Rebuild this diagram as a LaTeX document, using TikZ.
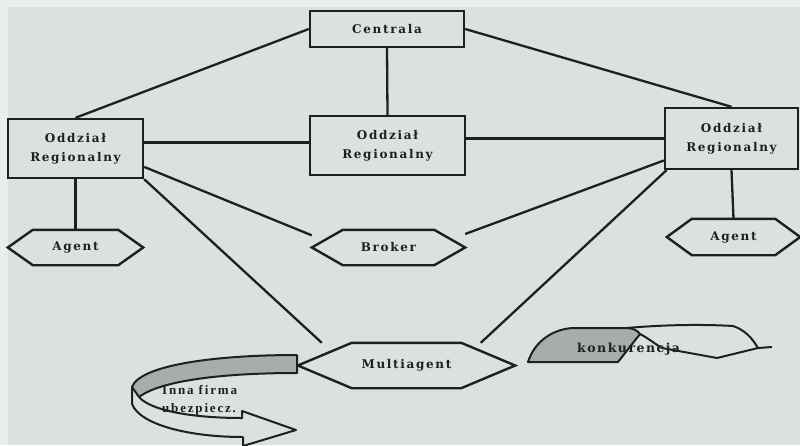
\documentclass[tikz,border=0pt]{standalone}
\usepackage{fontspec}
\setmainfont{DejaVu Serif}
\newfontfamily\lblfont[LetterSpace=14]{DejaVu Serif}
\newfontfamily\konfont[LetterSpace=12]{DejaVu Serif}
\newfontfamily\innafont[LetterSpace=14]{Liberation Serif}
\usetikzlibrary{calc}
\definecolor{bg}{RGB}{219,224,225}
\definecolor{bgl}{RGB}{234,237,238}
\definecolor{ink}{RGB}{30,32,32}
\definecolor{shadec}{RGB}{168,172,173}
\tikzset{
  box/.style={draw=ink, line width=2.4pt, rectangle, inner sep=0pt, align=center, text=ink,
    font=\lblfont\bfseries\fontsize{12}{19}\selectfont},
  hexn/.style={rectangle, inner sep=0pt, text=ink, font=\lblfont\bfseries\fontsize{12}{14}\selectfont},
  hexline/.style={draw=ink, line width=2.4pt, line join=miter},
  conn/.style={draw=ink, line width=2.3pt},
  ribbon/.style={draw=ink, line width=2pt, line join=round},
  lbl/.style={inner sep=0pt, text=ink}
}
\newcommand\hexdraw[2]{\draw[hexline] (#1.west) -- ($(#1.north west)+(#2,0)$) -- ($(#1.north east)+(-#2,0)$) -- (#1.east) -- ($(#1.south east)+(-#2,0)$) -- ($(#1.south west)+(#2,0)$) -- cycle;}
\begin{document}
\begin{tikzpicture}[x=1pt,y=-1pt]
\useasboundingbox (0,0) rectangle (800,445);
\clip (0,0) rectangle (800,445);
\fill[bg] (0,0) rectangle (800,445);
\fill[bgl] (0,0) rectangle (8,445);
\fill[bgl] (0,0) rectangle (800,7);

% boxes
\node[box, minimum width=154pt, minimum height=36pt] (cen) at (387,29) {Centrala};
\node[box, minimum width=135pt, minimum height=59pt] (lo) at (75.5,148.5) {Oddział\\Regionalny};
\node[box, minimum width=155pt, minimum height=59pt] (mo) at (387.5,145.5) {Oddział\\Regionalny};
\node[box, minimum width=133pt, minimum height=61pt] (ro) at (731.5,138.5) {Oddział\\Regionalny};

% hexagons
\node[hexn, minimum width=135pt, minimum height=35pt] (agl) at (75.5,247.5) {Agent};
\node[hexn, minimum width=153pt, minimum height=35pt] (bro) at (388.5,247.5) {Broker};
\node[hexn, minimum width=133pt, minimum height=36pt] (agr) at (733.5,237) {Agent};
\node[hexn, minimum width=217pt, minimum height=45pt] (mul) at (406.5,365.5) {Multiagent};
\hexdraw{agl}{25}
\hexdraw{bro}{31}
\hexdraw{agr}{25}
\hexdraw{mul}{54}

% connectors
\draw[conn] (cen.west) -- (lo.north);
\draw[conn] (cen.east) -- (ro.north);
\draw[conn] (cen.south) -- (mo.north);
\draw[conn] (lo.5) -- (lo.5 -| mo.west);
\draw[conn] (mo.east |- ro.west) -- (ro.west);
\draw[conn] (lo.south) -- (agl.north);
\draw[conn] (lo.-15) -- (bro.171);
\draw[conn] (lo.south east) -- (mul.165);
\draw[conn] (ro.198) -- (bro.10);
\draw[conn] (ro.206) -- (mul.17);
\draw[conn] (ro.south) -- (agr.north);

% Inna firma ribbon arrow
\filldraw[ribbon, fill=shadec] (297,355) .. controls (215,355) and (140,365) .. (132,387)
  -- (139,397) .. controls (160,381) and (220,373) .. (297,373) -- cycle;
\draw[ribbon] (132,387) -- (132,404) .. controls (140,425) and (190,437) .. (243,437)
  -- (243,446) -- (296,430) -- (242,411) -- (242,418)
  .. controls (190,418) and (150,410) .. (139,397);
\node[lbl, anchor=base west, font=\innafont\bfseries\fontsize{13}{14}\selectfont] (inna) at (162,394) {Inna firma};
\node[lbl, anchor=base west, font=\innafont\bfseries\fontsize{13}{14}\selectfont] (ubez) at (162,412) {ubezpiecz.};

% konkurencja ribbon
\filldraw[ribbon, fill=shadec] (528,362) .. controls (535,340) and (555,328) .. (575,328)
  -- (627,328) .. controls (633,328) and (638,331) .. (640,334) -- (618,362) -- cycle;
\draw[ribbon] (627,328) .. controls (660,325) and (700,324) .. (733,326)
  .. controls (745,330) and (752,338) .. (758,348) -- (772,347);
\draw[ribbon] (640,334) .. controls (648,338) and (655,344) .. (662,348) -- (717,358) -- (758,348);
\node[lbl, anchor=base west, font=\konfont\bfseries\fontsize{12.5}{14}\selectfont] (kon) at (577,352) {konkurencja};
\end{tikzpicture}
\end{document}
